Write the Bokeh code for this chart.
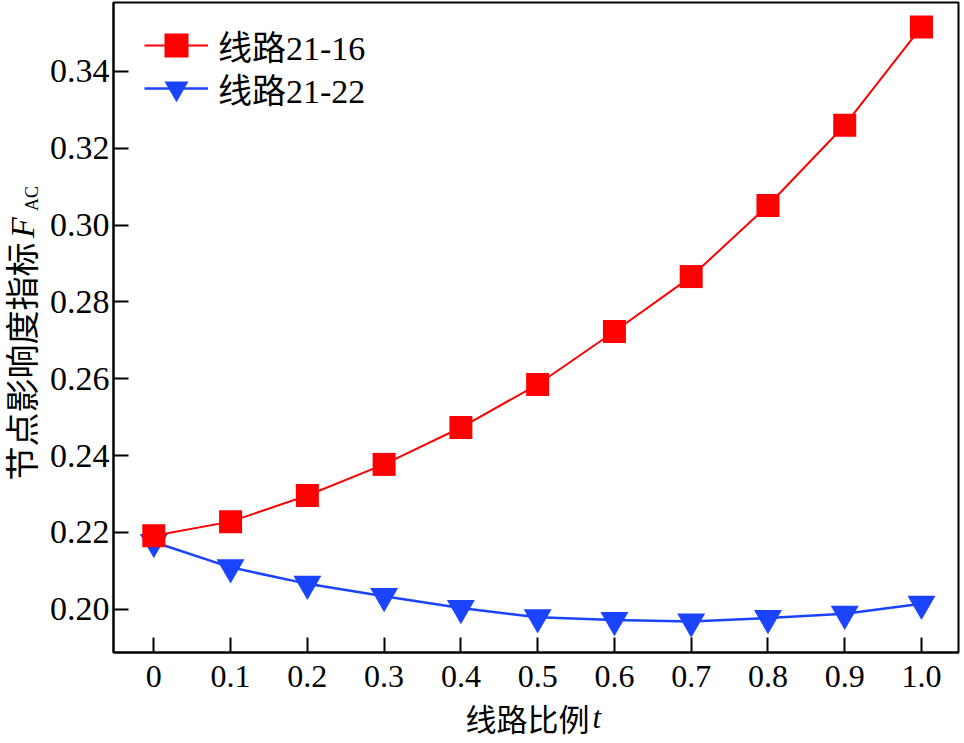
import math
from bokeh.plotting import figure
from bokeh.layouts import row, column
from bokeh.models import Range1d, FixedTicker, Legend, LegendItem
from bokeh.core.properties import value
from bokeh.embed import file_html
from bokeh.resources import INLINE

# ---- data ----
t_values = [0.0, 0.1, 0.2, 0.3, 0.4, 0.5, 0.6, 0.7, 0.8, 0.9, 1.0]
line_21_16 = [0.2191, 0.2228, 0.2296, 0.2377, 0.2473, 0.2585, 0.2723, 0.2866, 0.3051, 0.3260, 0.3516]
line_21_22 = [0.2175, 0.2109, 0.2066, 0.2034, 0.2003, 0.1979, 0.1972, 0.1968, 0.1977, 0.1988, 0.2014]
series_names = ["线路21-16", "线路21-22"]

x_ticks = [0.0, 0.1, 0.2, 0.3, 0.4, 0.5, 0.6, 0.7, 0.8, 0.9, 1.0]
x_tick_labels = ["0", "0.1", "0.2", "0.3", "0.4", "0.5", "0.6", "0.7", "0.8", "0.9", "1.0"]
y_ticks = [0.20, 0.22, 0.24, 0.26, 0.28, 0.30, 0.32, 0.34]
y_tick_labels = ["0.20", "0.22", "0.24", "0.26", "0.28", "0.30", "0.32", "0.34"]

x_title = "线路比例"
x_title_var = "t"
y_title = "节点影响度指标"
y_title_var = "F"
y_title_sub = "AC"

SERIF = "Liberation Serif"
CJK = "Noto Sans CJK SC"
MIXED = "'Liberation Serif', 'Noto Sans CJK SC'"
RED = "#FF0000"
BLUE = "#1A44FF"

LEFT_W = 42      # strip holding the y title
BOTTOM_H = 43    # strip holding the x title
TOTAL_W, TOTAL_H = 964, 743
MAIN_W, MAIN_H = TOTAL_W - LEFT_W, TOTAL_H - BOTTOM_H
FRAME_TOP, FRAME_BOTTOM = 2, 652   # frame edges (pixels from the top) shared by the row

# ---- main chart ----
p = figure(width=MAIN_W, height=MAIN_H, output_backend="svg", toolbar_location=None,
           x_range=Range1d(-0.0525, 1.0482), y_range=Range1d(0.18873, 0.35795),
           min_border_left=71, min_border_right=6, min_border_top=FRAME_TOP,
           min_border_bottom=MAIN_H - FRAME_BOTTOM)
p.background_fill_color = "white"
p.border_fill_color = "white"
p.outline_line_color = "black"
p.outline_line_width = 2
p.xgrid.visible = False
p.ygrid.visible = False

for ax, ticks, labels, standoff, fsize in ((p.xaxis[0], x_ticks, x_tick_labels, 13, "32px"),
                                           (p.yaxis[0], y_ticks, y_tick_labels, 4, "34px")):
    ax.ticker = FixedTicker(ticks=ticks)
    ax.major_label_overrides = dict(zip(ticks, labels))
    ax.major_tick_in = 15
    ax.major_tick_out = 0
    ax.minor_tick_in = 0
    ax.minor_tick_out = 0
    ax.axis_line_width = 2
    ax.axis_line_color = "black"
    ax.major_tick_line_width = 2
    ax.major_tick_line_color = "black"
    ax.major_label_text_font = SERIF
    ax.major_label_text_font_size = fsize
    ax.major_label_text_color = "black"
    ax.major_label_standoff = standoff

# series (blue drawn first so the red square covers it at t=0)
bl = p.line(t_values, line_21_22, line_color=BLUE, line_width=2.5)
bs = p.scatter(t_values, line_21_22, marker="inverted_triangle", size=28,
               fill_color=BLUE, line_color=BLUE, line_width=0)
rl = p.line(t_values, line_21_16, line_color=RED, line_width=2)
rs = p.scatter(t_values, line_21_16, marker="square", size=23,
               fill_color=RED, line_color=RED, line_width=0)

legend_style = dict(padding=0, margin=0, spacing=0, glyph_width=64, glyph_height=60,
                    label_height=30, label_standoff=10, label_text_font=MIXED,
                    label_text_font_size="34px", label_text_color="black",
                    border_line_color=None, background_fill_alpha=0)
leg1 = Legend(items=[LegendItem(label=series_names[0], renderers=[rl, rs])],
              location=(31, 577), **legend_style)
leg2 = Legend(items=[LegendItem(label=series_names[1], renderers=[bl, bs])],
              location=(31, 534), **legend_style)
p.add_layout(leg1, "center")
p.add_layout(leg2, "center")

# ---- y title strip: its frame is aligned with the main frame (rows 2..652),
#      so the range is set for data y = MAIN_H - pixel row ----
yt = figure(width=LEFT_W, height=MAIN_H, output_backend="svg", toolbar_location=None,
            x_range=Range1d(0, LEFT_W), y_range=Range1d(MAIN_H - FRAME_BOTTOM, MAIN_H - FRAME_TOP),
            x_axis_location=None, y_axis_location=None,
            min_border_left=0, min_border_right=0, min_border_top=FRAME_TOP,
            min_border_bottom=MAIN_H - FRAME_BOTTOM)
yt.outline_line_color = None
yt.xgrid.visible = False
yt.ygrid.visible = False
yt.text(x=[20], y=[MAIN_H - 361], text=[y_title], angle=math.pi / 2,
        text_font=value(CJK), text_font_size="34px", text_align="center",
        text_baseline="middle", text_color="black")
yt.text(x=[22], y=[MAIN_H - 227], text=[y_title_var], angle=math.pi / 2,
        text_font=value(SERIF), text_font_style="italic", text_font_size="34px",
        text_align="center", text_baseline="middle", text_color="black")
yt.text(x=[31], y=[MAIN_H - 198], text=[y_title_sub], angle=math.pi / 2,
        text_font=value(SERIF), text_font_size="18px", text_align="center",
        text_baseline="middle", text_color="black")

# ---- x title strip ----
xt = figure(width=TOTAL_W, height=BOTTOM_H, output_backend="svg", toolbar_location=None,
            x_range=Range1d(0, TOTAL_W), y_range=Range1d(0, BOTTOM_H),
            x_axis_location=None, y_axis_location=None,
            min_border_left=0, min_border_right=0, min_border_top=0, min_border_bottom=0)
xt.outline_line_color = None
xt.xgrid.visible = False
xt.ygrid.visible = False
xt.text(x=[465], y=[BOTTOM_H - 17], text=[x_title], text_font=value(CJK),
        text_font_size="31px", text_align="left", text_baseline="middle", text_color="black")
xt.text(x=[592], y=[BOTTOM_H - 17], text=[x_title_var], text_font=value(SERIF),
        text_font_style="italic", text_font_size="31px", text_align="left",
        text_baseline="middle", text_color="black")

layout = column(row(yt, p), xt)
open("out.html", "w").write(file_html(layout, INLINE))
